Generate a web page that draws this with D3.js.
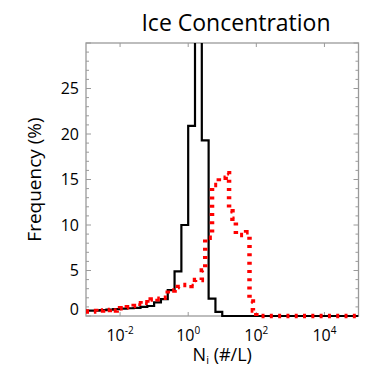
<!DOCTYPE html>
<html>
<head>
<meta charset="utf-8">
<script src="https://cdn.jsdelivr.net/npm/d3@7/dist/d3.min.js"></script>
<style>
  html, body { margin: 0; padding: 0; background: #fff; }
  svg { display: block; }
  text { font-family: "Open Sans", "Noto Sans", sans-serif; fill: #000; }
</style>
</head>
<body>
<svg id="chart" width="366" height="375"></svg>
<script>
// ---- data ----
const titleText = "Ice Concentration";
const yLabelText = "Frequency (%)";
const xLabelMain = "N";
const xLabelSub = "i";
const xLabelRest = " (#/L)";

// black (solid) histogram: 0.2-decade bins starting at log10 = -3
const blackStart = -3;
const blackBinWidth = 0.2;
const blackValues = [
  0.6, 0.6, 0.65, 0.7, 0.75, 0.8, 0.85, 0.9, 1.0, 1.1,
  1.5, 1.85, 2.85, 4.9, 10.0, 20.9, 40.0, 19.3, 1.9, 0.45,
  0, 0, 0, 0, 0, 0, 0, 0, 0, 0,
  0, 0, 0, 0, 0, 0, 0, 0, 0, 0
];

// red (dashed) histogram: 0.1-decade bins starting at log10 = -3
const redStart = -3;
const redBinWidth = 0.1;
const redValues = [
  0.5, 0.5, 0.55, 0.5, 0.6, 0.7, 0.65, 0.75, 0.6, 0.8,
  0.85, 0.8, 0.95, 1.0, 1.1, 1.4, 1.35, 1.5, 1.45, 1.8,
  1.9, 1.85, 2.0, 2.0, 2.85, 2.8, 3.0, 3.2, 3.4, 3.4,
  3.4, 3.3, 3.95, 3.95, 5.0, 8.6, 8.6, 14.4, 14.4, 15.2,
  15.2, 15.7, 11.5, 10.7, 8.9, 8.9, 8.9, 9.2, 1.6, 0.6,
  0, 0, 0, 0, 0, 0, 0, 0, 0, 0,
  0, 0, 0, 0, 0, 0, 0, 0, 0, 0,
  0, 0, 0, 0, 0, 0, 0, 0, 0, 0
];

const xDomain = [1e-3, 1e5];
const yDomain = [0, 30];
const xTickExponents = [-2, 0, 2, 4];
const yMajorTicks = [0, 5, 10, 15, 20, 25];
const yMinorTicks = d3.range(0, 31, 1);

// ---- layout ----
const L = 86, R = 358.5, T = 43, B = 316;
const svg = d3.select("#chart");

const x = d3.scaleLog().domain(xDomain).range([L, R]);
const y = d3.scaleLinear().domain(yDomain).range([B, T]);

function stepPoints(start, width, values) {
  const pts = [];
  values.forEach((v, i) => {
    const lo = Math.pow(10, start + i * width);
    const hi = Math.pow(10, start + (i + 1) * width);
    pts.push([lo, v]);
    pts.push([hi, v]);
  });
  return pts;
}

const line = d3.line().x(d => x(d[0])).y(d => y(d[1]));

svg.append("defs").append("clipPath").attr("id", "clip")
  .append("rect").attr("x", L).attr("y", T).attr("width", R - L).attr("height", B - T + 3);

const axisColor = "#9a9a9a";

// box
svg.append("rect")
  .attr("x", L).attr("y", T).attr("width", R - L).attr("height", B - T)
  .attr("fill", "none").attr("stroke", axisColor).attr("stroke-width", 1.3);

// y ticks (left and right)
const gTicks = svg.append("g").attr("stroke", axisColor).attr("stroke-width", 1);
yMinorTicks.forEach(v => {
  const len = (v % 5 === 0) ? 5 : 3;
  gTicks.append("line").attr("x1", L).attr("x2", L + len).attr("y1", y(v)).attr("y2", y(v));
  gTicks.append("line").attr("x1", R).attr("x2", R - len).attr("y1", y(v)).attr("y2", y(v));
});
// x ticks (top and bottom)
xTickExponents.forEach(e => {
  const px = x(Math.pow(10, e));
  gTicks.append("line").attr("x1", px).attr("x2", px).attr("y1", B).attr("y2", B - 4);
  gTicks.append("line").attr("x1", px).attr("x2", px).attr("y1", T).attr("y2", T + 4);
});

// data lines
const gData = svg.append("g").attr("clip-path", "url(#clip)");
gData.append("path")
  .attr("d", line(stepPoints(blackStart, blackBinWidth, blackValues)))
  .attr("fill", "none").attr("stroke", "#000").attr("stroke-width", 2.2)
  .attr("stroke-linejoin", "miter");
gData.append("path")
  .attr("d", line(stepPoints(redStart, redBinWidth, redValues)))
  .attr("fill", "none").attr("stroke", "#ff0000").attr("stroke-width", 4.5)
  .attr("stroke-dasharray", "3 5.3");

// y tick labels
yMajorTicks.forEach(v => {
  svg.append("text")
    .attr("x", 79).attr("y", y(v) + (v === 0 ? -7 : 0))
    .attr("dy", "0.35em")
    .attr("text-anchor", "end")
    .attr("font-size", 16)
    .text(v);
});

// x tick labels
xTickExponents.forEach(e => {
  const t = svg.append("text")
    .attr("x", x(Math.pow(10, e))).attr("y", 341)
    .attr("text-anchor", "middle")
    .attr("font-size", 16);
  t.append("tspan").text("10");
  t.append("tspan").attr("dy", -7).attr("font-size", 10).text(String(e));
});

// x label
const xl = svg.append("text")
  .attr("x", (L + R) / 2).attr("y", 361)
  .attr("text-anchor", "middle")
  .attr("font-size", 18);
xl.append("tspan").text(xLabelMain);
xl.append("tspan").attr("dy", 3).attr("font-size", 11).text(xLabelSub);
xl.append("tspan").attr("dy", -3).text(xLabelRest);

// y label
svg.append("text")
  .attr("transform", `translate(41, ${(T + B) / 2}) rotate(-90)`)
  .attr("text-anchor", "middle")
  .attr("font-size", 19)
  .text(yLabelText);

// title
svg.append("text")
  .attr("x", 236).attr("y", 31)
  .attr("text-anchor", "middle")
  .attr("font-size", 23)
  .text(titleText);
</script>
</body>
</html>
